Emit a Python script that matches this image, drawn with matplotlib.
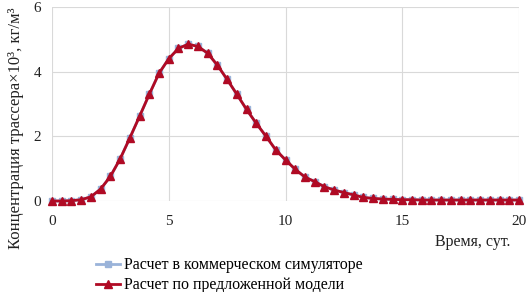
import numpy as np
import matplotlib
matplotlib.use("Agg")
import matplotlib.pyplot as plt
from matplotlib.lines import Line2D

plt.rcParams['font.family'] = ['Liberation Serif', 'DejaVu Serif']

# time step: 10 hours, 0..20 days
time_days = np.linspace(0, 20, 49)

conc_model = [0.0, 0.0, 0.01, 0.04, 0.13, 0.37, 0.76, 1.30, 1.95, 2.62,
              3.30, 3.95, 4.40, 4.72, 4.85, 4.78, 4.57, 4.20, 3.76, 3.30,
              2.83, 2.40, 2.00, 1.58, 1.27, 0.98, 0.74, 0.60, 0.44, 0.34,
              0.26, 0.19, 0.11, 0.08, 0.06, 0.05, 0.04, 0.04, 0.03, 0.03,
              0.03, 0.03, 0.03, 0.03, 0.03, 0.03, 0.03, 0.03, 0.03]
conc_sim = [0.0, 0.0, 0.01, 0.04, 0.13, 0.37, 0.76, 1.30, 1.95, 2.62,
            3.30, 3.95, 4.40, 4.72, 4.85, 4.78, 4.57, 4.20, 3.76, 3.30,
            2.83, 2.40, 2.00, 1.58, 1.27, 0.98, 0.74, 0.60, 0.44, 0.34,
            0.26, 0.19, 0.11, 0.08, 0.06, 0.05, 0.04, 0.04, 0.03, 0.03,
            0.03, 0.03, 0.03, 0.03, 0.03, 0.03, 0.03, 0.03, 0.03]

x_ticks = [0, 5, 10, 15, 20]
y_ticks = [0, 2, 4, 6]
label_sim = "Расчет в коммерческом симуляторе"
label_model = "Расчет по предложенной модели"

blue = '#9AB3D9'
red = '#B00A24'

fig = plt.figure(figsize=(5.31, 2.92), dpi=100)
ax = fig.add_axes([52/531, 1 - 201/292, (519-52)/531, (201-7)/292])

ax.plot(time_days, conc_sim, color=blue, lw=2, marker='s', ms=5, zorder=2)
ax.plot(time_days, conc_model, color=red, lw=2, marker='^', ms=5.5, zorder=3)

ax.set_xlim(0, 20)
ax.set_ylim(0, 6)
ax.set_xticks(x_ticks)
ax.set_yticks(y_ticks)
for s in ax.spines.values():
    s.set_visible(False)
ax.grid(True, color='#D9D9D9', lw=0.8)
ax.set_axisbelow(True)
ax.tick_params(length=0, labelsize=11, colors='#222222')
ax.tick_params(axis='x', pad=10)
ax.tick_params(axis='y', pad=8)
for ln in ax.lines:
    ln.set_clip_on(False)

fig.text(510/531, 1 - 242/292, "Время, сут.", ha='right', va='center', fontsize=11.5, color='#222222')
fig.text(16/531, 1 - 128/292, "Концентрация трассера×10³, кг/м³", rotation=90,
         ha='center', va='center', fontsize=12, color='#222222')

handles = [Line2D([], [], color=blue, lw=2, marker='s', ms=5),
           Line2D([], [], color=red, lw=2, marker='^', ms=5.5)]
fig.legend(handles, [label_sim, label_model], loc='upper left',
           bbox_to_anchor=(90/531, 1 - 251/292), frameon=False, fontsize=11.5,
           handlelength=1.5, handletextpad=0.2, labelspacing=0.25, borderaxespad=0)

fig.savefig("out.png", dpi=100)
